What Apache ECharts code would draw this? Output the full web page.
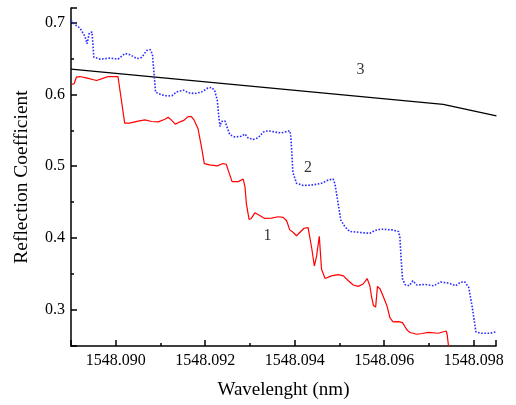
<!DOCTYPE html>
<html>
<head>
<meta charset="utf-8">
<script src="https://cdn.jsdelivr.net/npm/echarts@6/dist/echarts.min.js"></script>
<style>
html,body{margin:0;padding:0;background:#fff;}
#chart{width:516px;height:405px;}
</style>
</head>
<body>
<div id="chart"></div>
<script>
// Curve 2 (blue dotted)
const wl2 = [1548.08900,1548.08909,1548.08920,1548.08931,1548.08936,1548.08941,1548.08947,1548.08951,1548.08965,1548.08987,1548.09005,1548.09021,1548.09032,1548.09047,1548.09058,1548.09069,1548.09077,1548.09082,1548.09086,1548.09089,1548.09101,1548.09116,1548.09126,1548.09136,1548.09151,1548.09162,1548.09177,1548.09192,1548.09206,1548.09214,1548.09221,1548.09227,1548.09230,1548.09233,1548.09236,1548.09244,1548.09247,1548.09255,1548.09266,1548.09281,1548.09289,1548.09296,1548.09307,1548.09318,1548.09330,1548.09341,1548.09356,1548.09370,1548.09389,1548.09391,1548.09393,1548.09396,1548.09404,1548.09419,1548.09441,1548.09460,1548.09475,1548.09486,1548.09490,1548.09496,1548.09503,1548.09512,1548.09523,1548.09538,1548.09553,1548.09568,1548.09579,1548.09591,1548.09598,1548.09617,1548.09632,1548.09635,1548.09639,1548.09641,1548.09647,1548.09656,1548.09664,1548.09673,1548.09692,1548.09711,1548.09726,1548.09744,1548.09760,1548.09770,1548.09780,1548.09789,1548.09797,1548.09805,1548.09815,1548.09837,1548.09851];
const r2 = [0.7027,0.6968,0.6921,0.6808,0.6704,0.6855,0.6866,0.6516,0.6489,0.6503,0.6489,0.6567,0.6551,0.6496,0.6512,0.6608,0.6622,0.6558,0.6256,0.6030,0.5996,0.5975,0.5982,0.6033,0.6058,0.6023,0.6010,0.6033,0.6088,0.6096,0.6055,0.5918,0.5712,0.5553,0.5622,0.5630,0.5575,0.5438,0.5407,0.5416,0.5448,0.5393,0.5370,0.5393,0.5475,0.5493,0.5475,0.5462,0.5493,0.5434,0.5256,0.4914,0.4763,0.4732,0.4740,0.4763,0.4808,0.4822,0.4753,0.4526,0.4252,0.4160,0.4092,0.4085,0.4074,0.4068,0.4105,0.4123,0.4123,0.4115,0.4092,0.4023,0.3612,0.3434,0.3352,0.3338,0.3407,0.3348,0.3356,0.3338,0.3389,0.3375,0.3338,0.3384,0.3393,0.3315,0.3037,0.2699,0.2677,0.2677,0.2699];

// Curve 1 (red solid)
const wl1 = [1548.08901,1548.08907,1548.08912,1548.08920,1548.08934,1548.08957,1548.08968,1548.08983,1548.09005,1548.09009,1548.09020,1548.09031,1548.09050,1548.09065,1548.09080,1548.09095,1548.09110,1548.09117,1548.09124,1548.09133,1548.09143,1548.09151,1548.09162,1548.09169,1548.09175,1548.09184,1548.09192,1548.09198,1548.09210,1548.09227,1548.09240,1548.09247,1548.09253,1548.09260,1548.09274,1548.09285,1548.09289,1548.09292,1548.09298,1548.09303,1548.09311,1548.09318,1548.09333,1548.09348,1548.09363,1548.09374,1548.09382,1548.09389,1548.09397,1548.09404,1548.09412,1548.09421,1548.09430,1548.09438,1548.09444,1548.09449,1548.09455,1548.09460,1548.09468,1548.09482,1548.09497,1548.09509,1548.09520,1548.09531,1548.09542,1548.09553,1548.09562,1548.09568,1548.09572,1548.09576,1548.09581,1548.09585,1548.09591,1548.09598,1548.09606,1548.09613,1548.09620,1548.09632,1548.09641,1548.09651,1548.09658,1548.09673,1548.09685,1548.09699,1548.09721,1548.09739,1548.09741,1548.09746];
const r1 = [0.6137,0.6147,0.6238,0.6247,0.6229,0.6192,0.6215,0.6247,0.6247,0.6238,0.5599,0.5599,0.5626,0.5644,0.5622,0.5616,0.5653,0.5681,0.5644,0.5585,0.5616,0.5633,0.5690,0.5690,0.5644,0.5521,0.5256,0.5037,0.5019,0.5005,0.5037,0.5027,0.4914,0.4786,0.4786,0.4822,0.4708,0.4479,0.4260,0.4274,0.4352,0.4329,0.4274,0.4279,0.4297,0.4288,0.4242,0.4115,0.4078,0.4033,0.4082,0.4137,0.4147,0.3863,0.3612,0.3753,0.4026,0.3567,0.3438,0.3475,0.3493,0.3475,0.3407,0.3348,0.3329,0.3362,0.3438,0.3338,0.3178,0.3064,0.3041,0.3329,0.3293,0.3188,0.3064,0.2890,0.2836,0.2838,0.2825,0.2722,0.2688,0.2663,0.2674,0.2690,0.2677,0.2708,0.2653,0.2380];

// Curve 3 (black)
const wl3 = [1548.08900,1548.09732,1548.09851];
const r3 = [0.635,0.586,0.570];

// Curve annotations
const curveNames = ['1','2','3'];
const nameWl = [1548.09339,1548.09430,1548.09547];
const nameR = [0.4037,0.4973,0.6342];

const xMin = 1548.089, xMax = 1548.0985;
const yMin = 0.25, yMax = 0.72;

const zip = (a,b) => a.map((v,i)=>[v,b[i]]);
const font = '"Liberation Serif","Times New Roman",serif';

const chart = echarts.init(document.getElementById('chart'), null, {renderer:'canvas'});
chart.setOption({
  animation:false,
  backgroundColor:'#fff',
  grid:{left:71,right:20,top:8,bottom:55,containLabel:false},
  xAxis:{
    type:'value',min:xMin,max:xMax,
    name:'Wavelenght (nm)',nameLocation:'middle',nameGap:35,
    nameTextStyle:{fontFamily:font,fontSize:19,color:'#000'},
    axisLine:{lineStyle:{color:'#000',width:1.5}},
    axisTick:{inside:true,length:6,lineStyle:{color:'#000',width:1.5}},
    minorTick:{show:true,splitNumber:2,length:3,lineStyle:{color:'#000',width:1.5}},
    axisLabel:{fontFamily:font,fontSize:16,color:'#000',margin:7,showMinLabel:false,showMaxLabel:false,
      formatter:v=>v.toFixed(3)},
    splitLine:{show:false}
  },
  yAxis:{
    type:'value',min:yMin,max:yMax,
    name:'Reflection Coefficient',nameLocation:'middle',nameGap:39,nameRotate:90,
    nameTextStyle:{fontFamily:font,fontSize:19.5,color:'#000'},
    axisLine:{show:true,lineStyle:{color:'#000',width:1.5}},
    axisTick:{show:true,inside:true,length:6,lineStyle:{color:'#000',width:1.5}},
    minorTick:{show:true,splitNumber:2,length:3,lineStyle:{color:'#000',width:1.5}},
    axisLabel:{fontFamily:font,fontSize:16,color:'#000',margin:6,showMinLabel:false,showMaxLabel:false,
      formatter:v=>v.toFixed(1)},
    splitLine:{show:false}
  },
  series:[
    {type:'line',data:zip(wl3,r3),symbol:'none',lineStyle:{color:'#000',width:1.3}},
    {type:'line',data:zip(wl2,r2),symbol:'none',lineStyle:{color:'#2a2aff',width:1.6,type:'dotted'}},
    {type:'line',data:zip(wl1,r1),symbol:'none',clip:true,lineStyle:{color:'#ff0000',width:1.2}},
    {type:'scatter',data:zip(nameWl,nameR),symbolSize:0,silent:true,
      label:{show:true,position:'inside',formatter:p=>curveNames[p.dataIndex],
        fontFamily:font,fontSize:16,color:'#000'}}
  ]
});
</script>
</body>
</html>
